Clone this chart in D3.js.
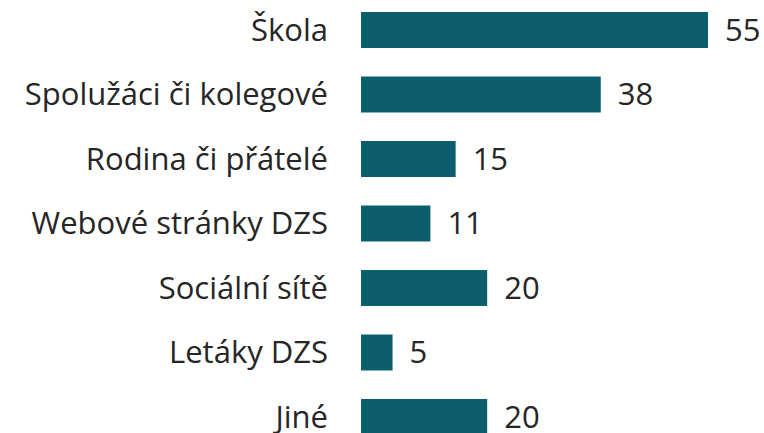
<!DOCTYPE html>
<html>
<head>
<meta charset="utf-8">
<script src="https://cdn.jsdelivr.net/npm/d3@7"></script>
<style>
  body { margin: 0; background: #fff; }
  text { font-family: "Open Sans", "Noto Sans", sans-serif; fill: #262626; }
</style>
</head>
<body>
<svg id="chart" width="764" height="433"></svg>
<script>
var categories = ["Škola", "Spolužáci či kolegové", "Rodina či přátelé", "Webové stránky DZS", "Sociální sítě", "Letáky DZS", "Jiné"];
var values = [55, 38, 15, 11, 20, 5, 20];

var barColor = "#0d5e6d";
var fontSize = 31;

var svg = d3.select("#chart");

var x = d3.scaleLinear().domain([0, 55]).range([361, 708]);
var y = d3.scaleBand().domain(categories).range([-2.25, 449.25]).paddingInner(0.442).paddingOuter(0.221);

var data = categories.map(function(c, i) { return { name: c, value: values[i] }; });

// bars
svg.selectAll(".bar").data(data).enter()
  .append("rect")
  .attr("class", "bar")
  .attr("x", x(0))
  .attr("y", function(d) { return y(d.name); })
  .attr("width", function(d) { return x(d.value) - x(0); })
  .attr("height", y.bandwidth())
  .attr("fill", barColor);

// category labels
var yAxis = d3.axisLeft(y).tickSize(0).tickPadding(0);
var g = svg.append("g")
  .attr("transform", "translate(328,0)")
  .call(yAxis);
g.select(".domain").remove();
g.selectAll("text")
  .attr("font-size", fontSize)
  .attr("font-family", null)
  .attr("fill", "#262626")
  .attr("dy", "0.34em");

// value labels
svg.selectAll(".val").data(data).enter()
  .append("text")
  .attr("class", "val")
  .attr("x", function(d) { return x(d.value) + 17; })
  .attr("y", function(d) { return y(d.name) + y.bandwidth() / 2; })
  .attr("dy", "0.34em")
  .attr("font-size", fontSize)
  .text(function(d) { return d.value; });
</script>
</body>
</html>
